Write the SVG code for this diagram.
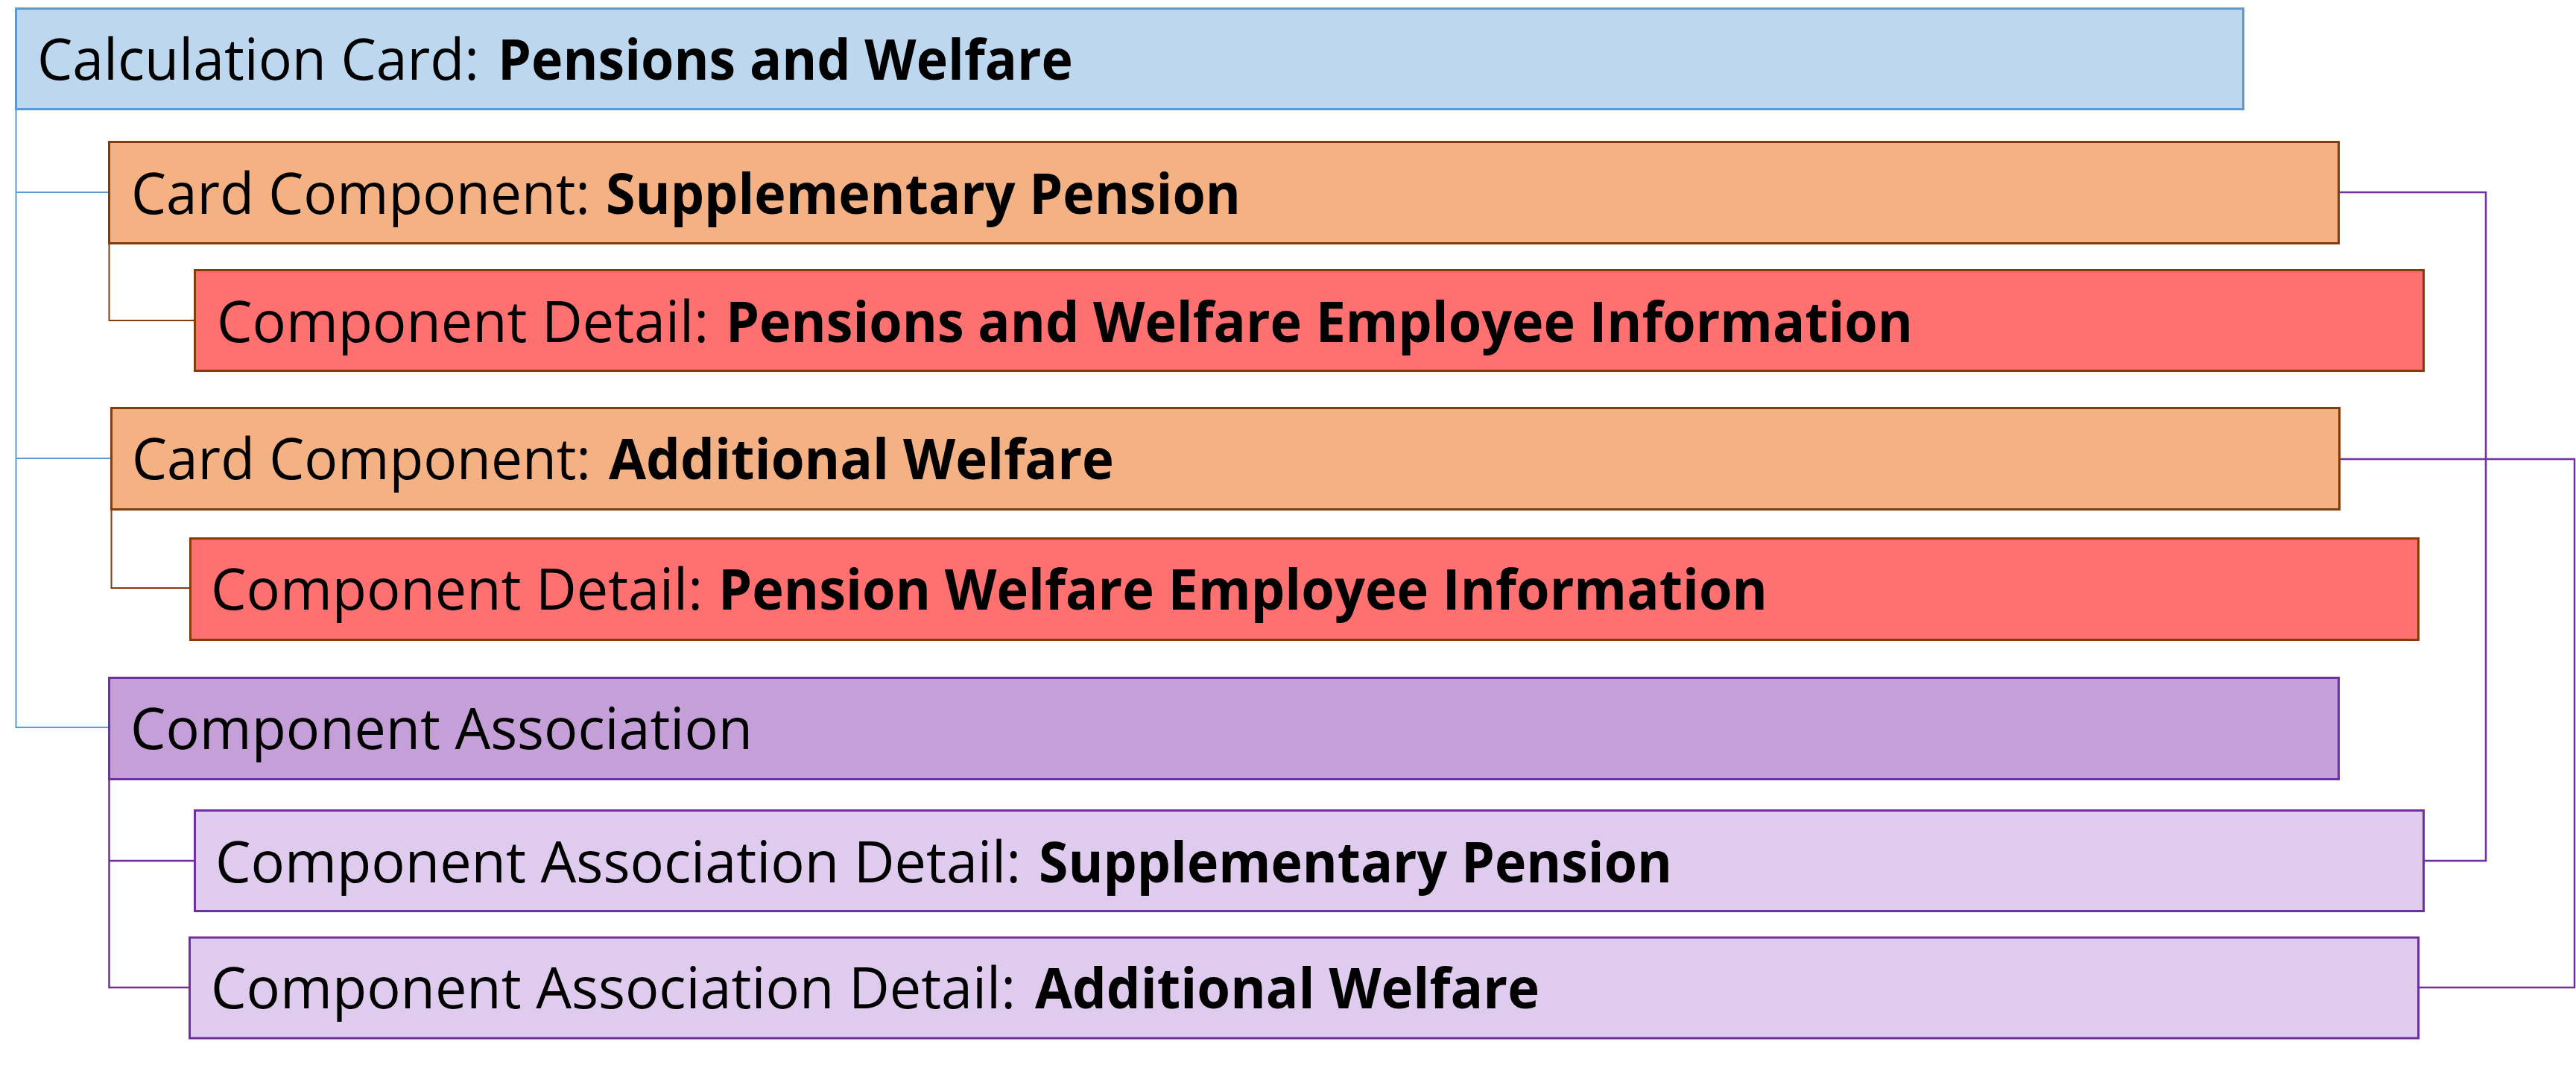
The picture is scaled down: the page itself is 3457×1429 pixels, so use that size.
<svg xmlns="http://www.w3.org/2000/svg" width="3457" height="1429" viewBox="0 0 3457 1429">
<style>
  .t { font-family: "Open Sans", "Noto Sans", sans-serif; font-size: 76px; fill: #000; }
  .b { font-weight: bold; }
  .card { fill: #BDD7EE; stroke: #5B9BD5; stroke-width: 3; }
  .comp { fill: #F4B183; stroke: #843C0C; stroke-width: 3; }
  .det { fill: #FF7171; stroke: #843C0C; stroke-width: 3; }
  .assoc { fill: #C49FD8; stroke: #7030A0; stroke-width: 3; }
  .adet { fill: #DFCBED; stroke: #7030A0; stroke-width: 3; }
  .cb { fill: none; stroke: #5B9BD5; stroke-width: 2; }
  .cr { fill: none; stroke: #843C0C; stroke-width: 2; }
  .cp { fill: none; stroke: #7030A0; stroke-width: 2.5; }
</style>
<rect width="3457" height="1429" fill="#FFFFFF"/>
<g id="connectors">
  <path class="cb" d="M21.5 148 V976 H146"/>
  <path class="cb" d="M21.5 258 H146"/>
  <path class="cb" d="M21.5 615 H149"/>
  <path class="cr" d="M146.5 326 V430 H261"/>
  <path class="cr" d="M149.5 685 V789 H255"/>
  <path class="cp" d="M146.5 1046 V1325 H254"/>
  <path class="cp" d="M146.5 1155 H261"/>
  <path class="cp" d="M3140 258 H3336 V1155 H3254"/>
  <path class="cp" d="M3141 616 H3455 V1325 H3247"/>
</g>
<g id="calc-card">
  <rect class="card" x="21.5" y="11.5" width="2989" height="135"/>
  <text class="t" y="107"><tspan x="50" textLength="593" lengthAdjust="spacingAndGlyphs">Calculation Card:</tspan><tspan class="b" x="668" textLength="772" lengthAdjust="spacingAndGlyphs">Pensions and Welfare</tspan></text>
</g>
<g id="card-component-1">
  <rect class="comp" x="146.5" y="190.5" width="2992" height="136"/>
  <text class="t" y="287"><tspan x="176" textLength="616" lengthAdjust="spacingAndGlyphs">Card Component:</tspan><tspan class="b" x="813" textLength="852" lengthAdjust="spacingAndGlyphs">Supplementary Pension</tspan></text>
</g>
<g id="component-detail-1">
  <rect class="det" x="261.5" y="362.5" width="2991" height="135"/>
  <text class="t" y="459"><tspan x="291" textLength="660" lengthAdjust="spacingAndGlyphs">Component Detail:</tspan><tspan class="b" x="974" textLength="1593" lengthAdjust="spacingAndGlyphs">Pensions and Welfare Employee Information</tspan></text>
</g>
<g id="card-component-2">
  <rect class="comp" x="149.5" y="547.5" width="2990" height="136"/>
  <text class="t" y="643"><tspan x="177" textLength="616" lengthAdjust="spacingAndGlyphs">Card Component:</tspan><tspan class="b" x="817" textLength="678" lengthAdjust="spacingAndGlyphs">Additional Welfare</tspan></text>
</g>
<g id="component-detail-2">
  <rect class="det" x="255.5" y="722.5" width="2990" height="136"/>
  <text class="t" y="818"><tspan x="283" textLength="660" lengthAdjust="spacingAndGlyphs">Component Detail:</tspan><tspan class="b" x="964" textLength="1408" lengthAdjust="spacingAndGlyphs">Pension Welfare Employee Information</tspan></text>
</g>
<g id="component-association">
  <rect class="assoc" x="146.5" y="909.5" width="2992" height="136"/>
  <text class="t" y="1005"><tspan x="175" textLength="835" lengthAdjust="spacingAndGlyphs">Component Association</tspan></text>
</g>
<g id="association-detail-1">
  <rect class="adet" x="261.5" y="1087.5" width="2991" height="135"/>
  <text class="t" y="1184"><tspan x="289" textLength="1081" lengthAdjust="spacingAndGlyphs">Component Association Detail:</tspan><tspan class="b" x="1394" textLength="850" lengthAdjust="spacingAndGlyphs">Supplementary Pension</tspan></text>
</g>
<g id="association-detail-2">
  <rect class="adet" x="254.5" y="1258" width="2991" height="135"/>
  <text class="t" y="1353"><tspan x="283" textLength="1080" lengthAdjust="spacingAndGlyphs">Component Association Detail:</tspan><tspan class="b" x="1389" textLength="677" lengthAdjust="spacingAndGlyphs">Additional Welfare</tspan></text>
</g>
</svg>
